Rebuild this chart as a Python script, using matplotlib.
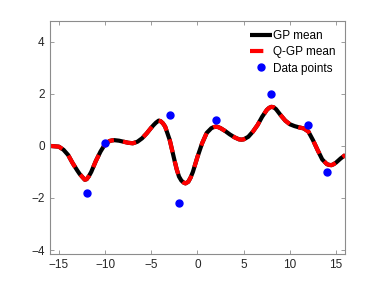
import numpy as np
import matplotlib.pyplot as plt

plt.rcParams['font.family'] = ['Liberation Sans', 'DejaVu Sans']

# data points
x_data = [-12, -10, -3, -2, 2, 8, 12, 14]
y_data = [-1.8, 0.1, 1.2, -2.2, 1.0, 2.0, 0.8, -1.0]

# posterior mean (GP and Q-GP coincide)
x_mean = [-16, -15, -14.5, -14, -13.5, -13, -12.75, -12.5, -12.2, -12, -11.75, -11.5, -11, -10.5,
          -10, -9.5, -9.25, -9, -8.5, -8, -7.5, -7, -6.5, -6, -5.5, -5, -4.75, -4.5, -4.2, -4,
          -3.75, -3.5, -3, -2.5, -2.25, -2, -1.75, -1.5, -1.3, -1, -0.75, -0.5, 0, 0.5, 1, 1.5,
          1.75, 2, 2.25, 2.5, 3, 3.5, 4, 4.5, 4.75, 5, 5.5, 6, 6.5, 7, 7.5, 7.75, 8, 8.25, 8.5,
          9, 9.5, 10, 10.5, 11, 11.5, 12, 12.5, 13, 13.5, 14, 14.25, 14.5, 14.75, 15, 15.5, 16]
y_mean = [0.0, -0.03, -0.15, -0.35, -0.67, -0.95, -1.08, -1.18, -1.3, -1.28, -1.16, -1.0, -0.58, -0.22,
          0.07, 0.19, 0.21, 0.22, 0.2, 0.16, 0.12, 0.1, 0.16, 0.29, 0.48, 0.7, 0.8, 0.89, 0.97, 0.95,
          0.87, 0.74, 0.22, -0.54, -0.9, -1.18, -1.33, -1.41, -1.44, -1.38, -1.22, -1.0, -0.42, 0.1, 0.5, 0.68,
          0.72, 0.74, 0.72, 0.68, 0.57, 0.44, 0.33, 0.25, 0.24, 0.25, 0.35, 0.55, 0.8, 1.12, 1.38, 1.46, 1.5, 1.48, 1.41,
          1.18, 0.97, 0.83, 0.76, 0.71, 0.67, 0.55, 0.22, -0.16, -0.52, -0.7, -0.73, -0.74, -0.7, -0.64, -0.48, -0.35]

fig = plt.figure(figsize=(3.82, 2.86), dpi=100)
ax = fig.add_axes([0.13, 0.112, 0.774, 0.815])

ax.plot(x_mean, y_mean, color='black', lw=3, label='GP mean', solid_capstyle='butt')
ax.plot(x_mean, y_mean, color='red', lw=3, dashes=(3.2, 2.2), label='Q-GP mean')
ax.plot(x_data, y_data, 'o', color='blue', ms=5, label='Data points')

ax.set_xlim(-16, 16)
ax.set_ylim(-4.15, 4.8)
ax.set_xticks([-15, -10, -5, 0, 5, 10, 15])
ax.set_yticks([-4, -2, 0, 2, 4])

for s in ax.spines.values():
    s.set_color('#8c8c8c')
    s.set_linewidth(0.8)
ax.tick_params(direction='in', length=3, width=0.6, color='#8c8c8c',
               labelsize=8.5, labelcolor='#262626', top=True, right=True)

leg = ax.legend(loc='upper right', frameon=False, fontsize=8.5, handlelength=1.9,
                handletextpad=0.1, labelspacing=0.35, borderaxespad=0.4)

fig.savefig('out.png', dpi=100)
